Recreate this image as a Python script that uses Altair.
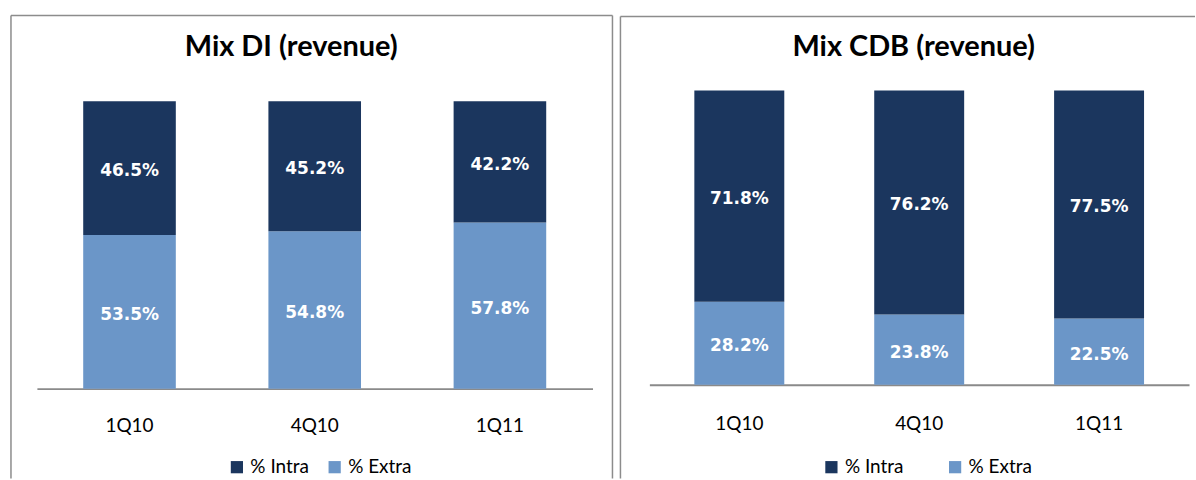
import altair as alt
import pandas as pd

quarters = ["1Q10", "4Q10", "1Q11"]
series = ["% Intra", "% Extra"]
di_intra = [46.5, 45.2, 42.2]
di_extra = [53.5, 54.8, 57.8]
cdb_intra = [71.8, 76.2, 77.5]
cdb_extra = [28.2, 23.8, 22.5]
titles = ["Mix DI (revenue)", "Mix CDB (revenue)"]
colors = ["#1b365e", "#6b96c8"]
BORDER = "#8c8c8c"


def frame(intra, extra):
    rows = []
    for q, a, b in zip(quarters, intra, extra):
        rows.append({"q": q, "s": series[1], "v": b, "o": 0})
        rows.append({"q": q, "s": series[0], "v": a, "o": 1})
    return pd.DataFrame(rows)


def panel(df, title, width, height, top, lab_pad, box_left, box_right, box_top,
          title_x, legend_x, legend_gap, draw_right):
    yscale = alt.Scale(domain=[0, 100], range=[height, top])
    x = alt.X(
        "q:N", sort=quarters,
        scale=alt.Scale(paddingInner=0.5, paddingOuter=0.25),
        axis=alt.Axis(title=None, ticks=False, labelAngle=0, labelFont="Lato",
                      labelFontSize=19, labelColor="#000000", labelPadding=lab_pad,
                      domainColor="#8a8a8a", domainWidth=2, grid=False),
    )
    bars = alt.Chart(df).mark_bar().encode(
        x=x,
        y=alt.Y("v:Q", stack="zero", scale=yscale, axis=None),
        color=alt.Color(
            "s:N",
            scale=alt.Scale(domain=series, range=colors),
            legend=alt.Legend(title=None, orient="none", legendX=legend_x, legendY=368,
                              direction="horizontal", symbolType="square", symbolSize=150,
                              symbolStrokeWidth=0, labelFont="Lato", labelFontSize=19,
                              labelColor="#000000", labelOffset=4, columnPadding=legend_gap),
        ),
        order=alt.Order("o:Q", sort="ascending"),
    )
    labels = alt.Chart(df).transform_stack(
        stack="v", as_=["v0", "v1"], groupby=["q"],
        sort=[alt.SortField("o", order="ascending")],
    ).transform_calculate(
        mid="(datum.v0 + datum.v1) / 2",
        txt="format(datum.v, '.1f') + '%'",
    ).mark_text(font="DejaVu Sans", fontWeight="bold", fontSize=17, color="white",
                baseline="middle", dy=3).encode(
        x=alt.X("q:N", sort=quarters),
        y=alt.Y("mid:Q", scale=yscale, axis=None),
        text="txt:N",
    )
    ttl = alt.Chart(alt.Data(values=[{"t": title}])).mark_text(
        font="Lato", fontWeight="bold", fontSize=29, color="#000000",
        align="center", baseline="alphabetic",
    ).encode(x=alt.value(title_x), y=alt.value(-34), text="t:N")
    one = alt.Data(values=[{"a": 1}])
    top_rule = alt.Chart(one).mark_rule(color=BORDER, strokeWidth=1.5).encode(
        x=alt.value(box_left), x2=alt.value(box_right), y=alt.value(box_top), y2=alt.value(box_top))
    left_rule = alt.Chart(one).mark_rule(color=BORDER, strokeWidth=1.5).encode(
        x=alt.value(box_left), y=alt.value(box_top), y2=alt.value(389))
    layers = [top_rule, left_rule]
    if draw_right:
        layers.append(alt.Chart(one).mark_rule(color=BORDER, strokeWidth=1.5).encode(
            x=alt.value(box_right), y=alt.value(box_top), y2=alt.value(389)))
    layers += [bars, labels, ttl]
    return alt.layer(*layers).properties(width=width, height=height)


left = panel(frame(di_intra, di_extra), titles[0], 557, 299, 11, 28,
             -26, 577, -75, 255, 191, 16, True)
right = panel(frame(cdb_intra, cdb_extra), titles[1], 541, 295, 0, 30,
              -29, 547, -74, 265, 173, 42, False)

chart = alt.hconcat(left, right, spacing=6).resolve_scale(
    color="independent", x="independent", y="independent"
).resolve_legend(color="independent").configure_view(strokeWidth=0).properties(
    padding={"left": 10, "top": 14, "right": 0, "bottom": 0}, background="white"
)

chart.save("out.html", embed_options={"renderer": "svg", "actions": False})
